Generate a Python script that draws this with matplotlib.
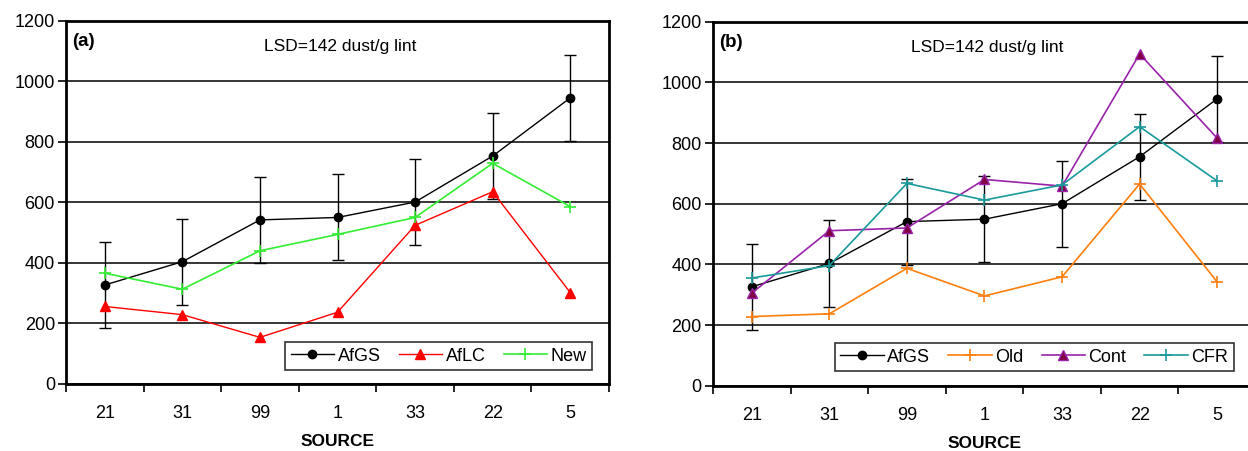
import numpy as np
import matplotlib.pyplot as plt
from matplotlib.lines import Line2D

plt.rcParams['font.family'] = ['Liberation Sans', 'DejaVu Sans']

sources = ['21', '31', '99', '1', '33', '22', '5']
lsd = 142

# panel (a)
afgs_a = [327, 404, 542, 550, 601, 753, 945]
aflc = [256, 229, 154, 237, 524, 635, 302]
new = [366, 313, 440, 494, 550, 729, 586]

# panel (b)
afgs_b = [326, 403, 541, 549, 600, 755, 946]
old = [228, 237, 387, 296, 359, 665, 342]
cont = [305, 511, 520, 680, 658, 1094, 816]
cfr = [355, 396, 667, 612, 662, 854, 675]

fig = plt.figure(figsize=(12.48, 4.51), dpi=100)
ax_a = fig.add_axes([0.0529, 0.1486, 0.4351, 0.8055])
ax_b = fig.add_axes([0.5713, 0.1448, 0.4351, 0.8070])

x = np.arange(len(sources))


def style_axes(ax, tag):
    ax.set_xlim(-0.5, len(sources) - 0.5)
    ax.set_ylim(0, 1200)
    ax.set_yticks(np.arange(0, 1201, 200))
    ax.set_xticks(np.arange(-0.5, len(sources), 1.0))
    ax.set_xticklabels([])
    ax.set_xticks(x, minor=True)
    ax.set_xticklabels(sources, minor=True)
    ax.tick_params(axis='x', which='major', direction='out', length=6, width=1.2)
    ax.tick_params(axis='x', which='minor', length=0, pad=15, labelsize=13)
    ax.tick_params(axis='y', direction='out', length=6, width=1.2, pad=2, labelsize=13)
    for s in ax.spines.values():
        s.set_linewidth(2.0)
    ax.grid(axis='y', color='black', linewidth=1.1)
    ax.set_axisbelow(True)
    ax.set_xlabel('SOURCE', fontsize=12.5, fontweight='bold', labelpad=9)
    ax.text(0.012, 0.965, tag, transform=ax.transAxes, fontsize=13.5,
            fontweight='bold', ha='left', va='top')
    ax.text(0.505, 0.928, 'LSD=142 dust/g lint', transform=ax.transAxes,
            fontsize=12.5, ha='center', va='center')


def add_legend(ax, handles, anchor):
    leg = ax.legend(handles=handles, loc='lower right', bbox_to_anchor=anchor,
                    ncol=len(handles), fontsize=13, frameon=True, fancybox=False,
                    handlelength=2.4, handletextpad=0.2, columnspacing=1.0,
                    borderpad=0.3, borderaxespad=0)
    leg.get_frame().set_edgecolor('black')
    leg.get_frame().set_linewidth(1.2)
    leg.set_zorder(10)


style_axes(ax_a, '(a)')
style_axes(ax_b, '(b)')

afgs_style = dict(color='black', linewidth=1, marker='o', markersize=6)
aflc_style = dict(color='#ff0000', linewidth=1, marker='^', markersize=7)
new_style = dict(color='#33ee33', linewidth=1.2, marker='+', markersize=9,
                 markeredgewidth=1.2)
old_style = dict(color='#ff7f0e', linewidth=1.2, marker='+', markersize=9,
                 markeredgewidth=1.2)
cont_style = dict(color='#9922aa', linewidth=1.2, marker='^', markersize=7,
                  markerfacecolor='#800040', markeredgecolor='#9922aa')
cfr_style = dict(color='#1a9a9a', linewidth=1.2, marker='+', markersize=9,
                 markeredgewidth=1.2)

# panel (a)
ax_a.errorbar(x, afgs_a, yerr=lsd, ecolor='black', elinewidth=1, capsize=4,
              capthick=1, zorder=3, **afgs_style)
ax_a.plot(x, aflc, zorder=4, **aflc_style)
ax_a.plot(x, new, zorder=4, **new_style)
add_legend(ax_a, [Line2D([], [], label='AfGS', **afgs_style),
                  Line2D([], [], label='AfLC', **aflc_style),
                  Line2D([], [], label='New', **new_style)], (0.969, 0.038))

# panel (b)
ax_b.errorbar(x, afgs_b, yerr=lsd, ecolor='black', elinewidth=1, capsize=4,
              capthick=1, zorder=3, **afgs_style)
ax_b.plot(x, old, zorder=4, **old_style)
ax_b.plot(x, cont, zorder=4, **cont_style)
ax_b.plot(x, cfr, zorder=4, **cfr_style)
add_legend(ax_b, [Line2D([], [], label='AfGS', **afgs_style),
                  Line2D([], [], label='Old', **old_style),
                  Line2D([], [], label='Cont', **cont_style),
                  Line2D([], [], label='CFR', **cfr_style)], (0.959, 0.040))

fig.savefig('out.png', dpi=100)
